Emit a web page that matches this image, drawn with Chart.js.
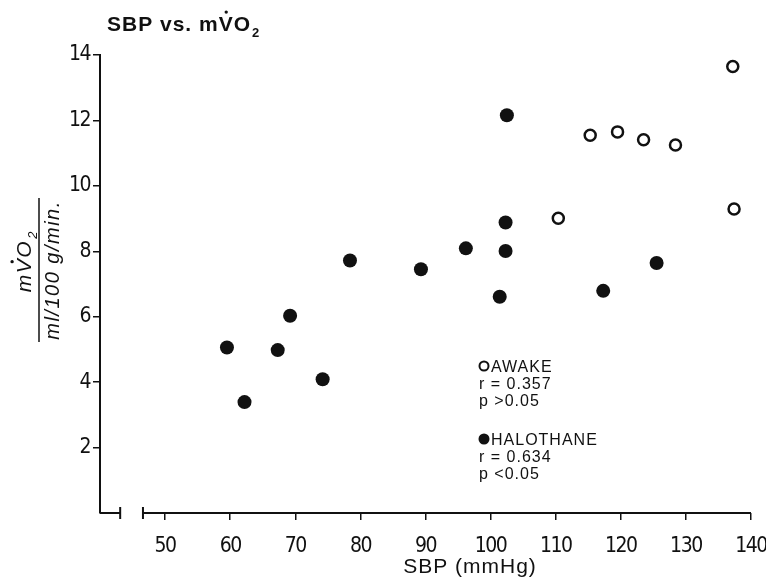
<!DOCTYPE html>
<html>
<head>
<meta charset="utf-8">
<title>SBP vs. mVO2</title>
<script src="https://cdn.jsdelivr.net/npm/chart.js@4.4.0/dist/chart.umd.min.js"></script>
<style>
  html, body { margin: 0; padding: 0; background: #fff; }
</style>
</head>
<body>
<canvas id="chart" width="766" height="580"></canvas>
<script>
// values
const awakeSBP = [110.4, 115.3, 119.5, 123.5, 128.4, 137.2, 137.4];
const awakeVO2 = [9.01, 11.55, 11.65, 11.41, 11.25, 13.65, 9.29];
const haloSBP = [59.5, 62.2, 67.3, 69.2, 74.2, 78.4, 89.3, 96.2, 102.5, 102.3, 102.3, 101.4, 117.3, 125.5];
const haloVO2 = [5.06, 3.39, 4.98, 6.03, 4.09, 7.72, 7.45, 8.09, 12.16, 8.88, 8.01, 6.61, 6.79, 7.64];
const xTicks = [50, 60, 70, 80, 90, 100, 110, 120, 130, 140];
const yTicks = [2, 4, 6, 8, 10, 12, 14];
const awakeNote = ['AWAKE', 'r = 0.357', 'p >0.05'];
const haloNote = ['HALOTHANE', 'r = 0.634', 'p <0.05'];

const INK = '#111';
const SANS = '"Liberation Sans", Arial, sans-serif';
const NARROW = '"Liberation Sans Narrow", "DejaVu Sans Condensed", sans-serif';

// V with a dot on top, O, subscript 2
function drawVO2(ctx, pre, x, y, size, style) {
  ctx.font = style + ' ' + size + 'px ' + SANS;
  ctx.fillText(pre, x, y);
  x += ctx.measureText(pre).width;
  const vw = ctx.measureText('V').width;
  ctx.fillText('V', x, y);
  const slant = style.indexOf('italic') >= 0 ? size * 0.18 : 0;
  ctx.beginPath();
  ctx.arc(x + vw / 2 + slant, y - size * 0.9, size * 0.08, 0, Math.PI * 2);
  ctx.fill();
  x += vw;
  ctx.fillText('O', x, y);
  x += ctx.measureText('O').width;
  ctx.font = style + ' ' + Math.round(size * 0.62) + 'px ' + SANS;
  ctx.fillText('2', x + 1, y + size * 0.3);
}

const paper = {
  id: 'paper',
  beforeDraw(chart) {
    // tighter digits on the axes, like the condensed type of the paper
    chart.ctx.letterSpacing = '-1.5px';
  },
  afterDraw(chart) {
    const ctx = chart.ctx;
    const xs = chart.scales.x, ys = chart.scales.y;
    const y0 = ys.getPixelForValue(0);
    ctx.save();
    ctx.strokeStyle = INK;
    ctx.fillStyle = INK;
    ctx.lineWidth = 2;

    // broken x axis
    const b1 = xs.getPixelForValue(43.1), b2 = xs.getPixelForValue(46.6);
    ctx.beginPath();
    ctx.moveTo(chart.chartArea.left, y0); ctx.lineTo(b1, y0);
    ctx.moveTo(b1, y0 - 6); ctx.lineTo(b1, y0 + 6);
    ctx.moveTo(b2, y0 - 6); ctx.lineTo(b2, y0 + 6);
    ctx.moveTo(b2, y0); ctx.lineTo(chart.chartArea.right, y0);
    ctx.stroke();

    // title
    ctx.textBaseline = 'alphabetic';
    ctx.textAlign = 'left';
    ctx.letterSpacing = '1px';
    drawVO2(ctx, 'SBP vs. m', 107, 31, 21, 'bold');

    // x axis title
    ctx.font = '21px ' + SANS;
    ctx.textAlign = 'center';
    ctx.fillText('SBP (mmHg)', 470, 573);

    // y axis title, a fraction turned on its side
    ctx.save();
    ctx.translate(0, 270);
    ctx.rotate(-Math.PI / 2);
    ctx.textAlign = 'left';
    ctx.letterSpacing = '1.5px';
    ctx.font = 'italic 21px ' + SANS;
    const numW = ctx.measureText('mVO').width + 10;
    drawVO2(ctx, 'm', 9 - numW / 2, 31, 21, 'italic');
    ctx.lineWidth = 1.5;
    ctx.beginPath();
    ctx.moveTo(-72, 39); ctx.lineTo(72, 39);
    ctx.stroke();
    ctx.font = 'italic 20px ' + SANS;
    ctx.textAlign = 'center';
    ctx.fillText('ml/100 g/min.', 0, 59);
    ctx.restore();

    // notes
    ctx.textAlign = 'left';
    ctx.letterSpacing = '1px';
    ctx.font = '16px ' + SANS;
    const notes = [[awakeNote, 372, false], [haloNote, 445, true]];
    notes.forEach(([lines, top, filled]) => {
      ctx.beginPath();
      ctx.arc(484, top - 6, filled ? 5.5 : 4.5, 0, Math.PI * 2);
      if (filled) ctx.fill(); else { ctx.lineWidth = 2; ctx.stroke(); }
      ctx.fillText(lines[0], 491, top);
      ctx.fillText(lines[1], 479, top + 17);
      ctx.fillText(lines[2], 479, top + 34);
    });
    ctx.restore();
  }
};

// keep the plot box where the paper has it, labels may hang over the edge
const noLabelPadding = s => { s.paddingLeft = 0; s.paddingRight = 0; s.paddingTop = 0; s.paddingBottom = 0; };

new Chart(document.getElementById('chart'), {
  type: 'scatter',
  data: {
    datasets: [
      {
        label: 'AWAKE',
        data: awakeSBP.map((v, i) => ({ x: v, y: awakeVO2[i] })),
        pointRadius: 5.5,
        pointBorderWidth: 2.5,
        pointBackgroundColor: '#fff',
        pointBorderColor: INK
      },
      {
        label: 'HALOTHANE',
        data: haloSBP.map((v, i) => ({ x: v, y: haloVO2[i] })),
        pointRadius: 7,
        pointBorderWidth: 0,
        pointBackgroundColor: INK,
        pointBorderColor: INK
      }
    ]
  },
  options: {
    responsive: false,
    animation: false,
    devicePixelRatio: 1,
    layout: { padding: { left: 0, right: 15, top: 55, bottom: 0 } },
    plugins: { legend: { display: false }, tooltip: { enabled: false } },
    scales: {
      x: {
        type: 'linear', min: 40, max: 140,
        afterFit: s => { s.height = 67; noLabelPadding(s); },
        afterBuildTicks: s => { s.ticks = xTicks.map(v => ({ value: v })); },
        border: { display: false },
        grid: { drawOnChartArea: false, drawTicks: true, tickLength: 7, color: INK, lineWidth: 1.5 },
        ticks: { color: INK, padding: 14, maxRotation: 0, font: { family: NARROW, size: 21 } }
      },
      y: {
        type: 'linear', min: 0, max: 14,
        afterFit: s => { s.width = 100; noLabelPadding(s); },
        afterBuildTicks: s => { s.ticks = yTicks.map(v => ({ value: v })); },
        border: { display: true, color: INK, width: 2 },
        grid: { drawOnChartArea: false, drawTicks: true, tickLength: 7, color: INK, lineWidth: 1.5 },
        ticks: { color: INK, padding: 3, font: { family: NARROW, size: 21 } }
      }
    }
  },
  plugins: [paper]
});
</script>
</body>
</html>
